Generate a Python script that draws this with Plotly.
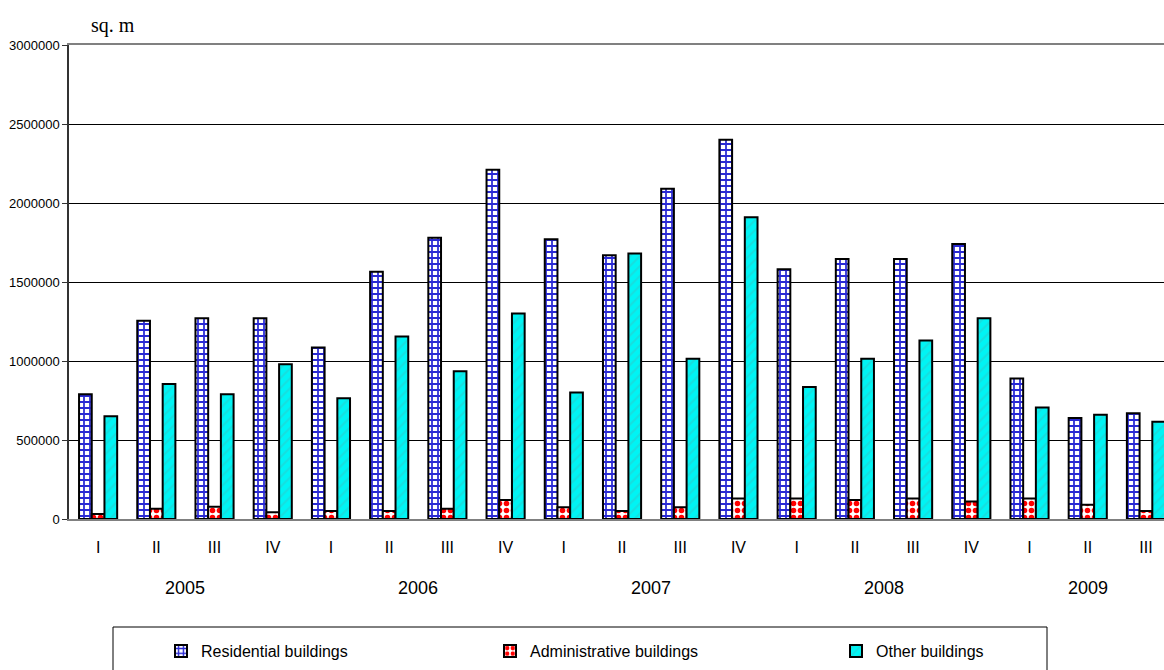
import plotly.graph_objects as go

quarters = ["I", "II", "III", "IV", "I", "II", "III", "IV", "I", "II", "III", "IV",
            "I", "II", "III", "IV", "I", "II", "III"]
quarter_years = ["2005"] * 4 + ["2006"] * 4 + ["2007"] * 4 + ["2008"] * 4 + ["2009"] * 3
years = ["2005", "2006", "2007", "2008", "2009"]

residential = [790000, 1255000, 1270000, 1270000, 1085000, 1565000, 1780000, 2210000,
               1770000, 1670000, 2090000, 2400000, 1580000, 1645000, 1645000, 1740000,
               890000, 640000, 670000]
administrative = [32000, 65000, 78000, 42000, 50000, 50000, 65000, 120000,
                  75000, 50000, 75000, 130000, 130000, 120000, 130000, 110000,
                  130000, 90000, 50000]
other = [650000, 855000, 790000, 980000, 765000, 1155000, 935000, 1300000,
         800000, 1680000, 1015000, 1910000, 835000, 1015000, 1130000, 1270000,
         705000, 660000, 615000]

series_names = ["Residential buildings", "Administrative buildings", "Other buildings"]
y_ticks = [0, 500000, 1000000, 1500000, 2000000, 2500000, 3000000]

idx = list(range(len(quarters)))

fig = go.Figure()
fig.add_trace(go.Bar(
    x=idx, y=residential, name=series_names[0], legend="legend",
    marker=dict(color="white", line=dict(color="black", width=2),
                pattern=dict(shape="+", fgcolor="#2a2ad4", bgcolor="white",
                             fgopacity=1, size=6, solidity=0.5)),
))
fig.add_trace(go.Bar(
    x=idx, y=administrative, name=series_names[1], legend="legend2",
    marker=dict(color="white", line=dict(color="black", width=2),
                pattern=dict(shape=".", fgcolor="#ff0000", bgcolor="white",
                             fgopacity=1, size=7, solidity=0.5)),
))
fig.add_trace(go.Bar(
    x=idx, y=other, name=series_names[2], legend="legend3",
    marker=dict(color="#00f0f0", line=dict(color="black", width=2),
                pattern=dict(shape="/", fgcolor="#30c8c8", bgcolor="#00f4f4",
                             size=7, solidity=0.3)),
))

# year labels centred under their quarters
annotations = []
for yr in years:
    members = [i for i, q in enumerate(quarter_years) if q == yr]
    annotations.append(dict(
        x=sum(members) / len(members), y=-0.1456, xref="x", yref="paper",
        text=yr, showarrow=False, yanchor="middle",
        font=dict(family="Arial, Liberation Sans", size=18, color="black"),
    ))
annotations.append(dict(
    x=0.04, y=1.0, xref="paper", yref="paper", xanchor="center", yanchor="bottom",
    yshift=6, text="sq. m", showarrow=False,
    font=dict(family="Liberation Serif, Times New Roman", size=20, color="black"),
))

legend_common = dict(
    orientation="h", xref="container", yref="container", xanchor="left",
    y=(670 - 634) / 670, yanchor="top",
    bgcolor="rgba(0,0,0,0)", borderwidth=0,
    font=dict(family="Arial, Liberation Sans", size=16, color="black"),
)

fig.update_layout(
    width=1164, height=670,
    margin=dict(l=69, r=0, t=45, b=151, autoexpand=False),
    paper_bgcolor="white", plot_bgcolor="white",
    barmode="group", bargap=0.345, bargroupgap=0.0,
    font=dict(family="Arial, Liberation Sans", color="black"),
    xaxis=dict(
        range=[-0.5, 18.31], tickmode="array", tickvals=idx, ticktext=quarters,
        showgrid=False, zeroline=False, ticks="", ticklabelstandoff=13,
        showline=True, linecolor="#808080", linewidth=2, mirror=True,
        tickfont=dict(family="Arial, Liberation Sans", size=16, color="black"),
    ),
    yaxis=dict(
        range=[0, 3000000], tickmode="array", tickvals=y_ticks,
        ticktext=[str(v) for v in y_ticks],
        showgrid=True, gridcolor="black", gridwidth=1, zeroline=False,
        showline=True, linecolor="#333333", linewidth=1.5,
        ticks="outside", ticklen=5, tickcolor="#333333",
        tickfont=dict(family="Arial, Liberation Sans", size=13, color="black"),
    ),
    legend=dict(legend_common, x=161 / 1164),
    legend2=dict(legend_common, x=490 / 1164),
    legend3=dict(legend_common, x=836 / 1164),
    annotations=annotations,
    shapes=[dict(type="rect", xref="paper", yref="paper",
                 x0=(113 - 69) / 1095, x1=(1047 - 69) / 1095,
                 y0=(519 - 627) / 474, y1=(519 - 690) / 474,
                 line=dict(color="black", width=1), fillcolor="rgba(0,0,0,0)")],
    showlegend=True,
)

fig.write_html("out.html")
